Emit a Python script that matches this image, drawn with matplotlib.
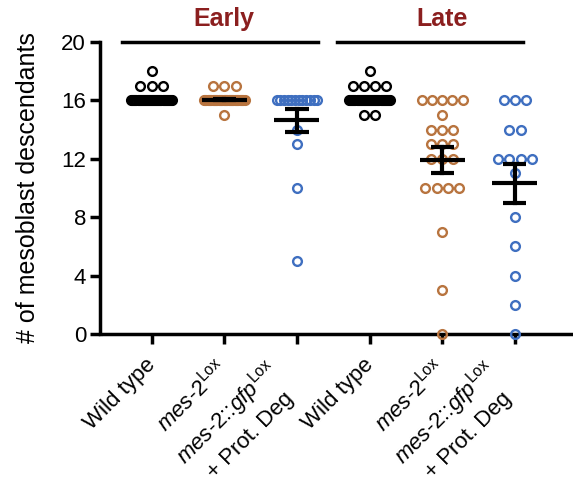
import matplotlib
matplotlib.use('Agg')
import matplotlib.pyplot as plt
import matplotlib.transforms as mtransforms
import numpy as np

plt.rcParams['font.family'] = ['Liberation Sans', 'DejaVu Sans']
plt.rcParams['mathtext.fontset'] = 'custom'
plt.rcParams['mathtext.rm'] = 'Liberation Sans'
plt.rcParams['mathtext.it'] = 'Liberation Sans:italic'

# values (counts per row)
wt_early = [18] + [17] * 3 + [16] * 40
mes2_early = [17] * 3 + [16] * 34 + [15]
gfp_early = [16] * 12 + [14, 13, 10, 5]
wt_late = [18] + [17] * 4 + [16] * 40 + [15] * 2
mes2_late = [16] * 5 + [15] + [14] * 3 + [13] * 3 + [12] * 3 + [10] * 4 + [7, 3, 0]
gfp_late = [16] * 3 + [14] * 2 + [12] * 4 + [11, 8, 6, 4, 2, 0]

groups = [wt_early, mes2_early, gfp_early, wt_late, mes2_late, gfp_late]
colors = ['black', '#b8743f', '#3f6fc0', 'black', '#b8743f', '#3f6fc0']
labels = ['Wild type',
          r'$\mathit{mes}$-$\mathit{2}^{\mathrm{Lox}}$',
          r'$\mathit{mes}$-$\mathit{2}$::$\mathit{gfp}^{\mathrm{Lox}}$' + '\n+ Prot. Deg',
          'Wild type',
          r'$\mathit{mes}$-$\mathit{2}^{\mathrm{Lox}}$',
          r'$\mathit{mes}$-$\mathit{2}$::$\mathit{gfp}^{\mathrm{Lox}}$' + '\n+ Prot. Deg']
title_color = '#8b1f1f'

fig = plt.figure(figsize=(5.73, 4.9), dpi=100)
ax = fig.add_axes([100 / 573, 156 / 490, 473 / 573, 292 / 490])

step = 0.155
maxspan = 0.56
for i, (vals, c) in enumerate(zip(groups, colors)):
    pos = i + 1
    vals = np.array(vals, dtype=float)
    # beeswarm-like: spread equal values in a row
    for v in np.unique(vals):
        n = np.sum(vals == v)
        span = min((n - 1) * step, maxspan)
        offs = np.linspace(-span / 2, span / 2, n) if n > 1 else np.array([0.0])
        ax.plot(pos + offs, [v] * n, 'o', mfc='none', mec=c, ms=6.3, mew=1.7,
                clip_on=False, zorder=3)
    m = vals.mean()
    sem = vals.std(ddof=1) / np.sqrt(len(vals))
    ax.plot([pos - 0.31, pos + 0.31], [m, m], color='black', lw=3, zorder=4,
            solid_capstyle='butt')
    ax.plot([pos, pos], [m - sem, m + sem], color='black', lw=3, zorder=4)
    for e in (m - sem, m + sem):
        ax.plot([pos - 0.16, pos + 0.16], [e, e], color='black', lw=3, zorder=4,
                solid_capstyle='butt')

# group bars
ax.plot([0.59, 3.29], [20, 20], color='black', lw=2.5, clip_on=False)
ax.plot([3.55, 6.11], [20, 20], color='black', lw=2.5, clip_on=False)
ax.text(2.0, 21.55, 'Early', color=title_color, fontsize=18, fontweight='bold',
        ha='center', va='center')
ax.text(5.0, 21.55, 'Late', color=title_color, fontsize=18, fontweight='bold',
        ha='center', va='center')

ax.set_xlim(0.29, 6.8)
ax.set_ylim(0, 20)
ax.set_yticks([0, 4, 8, 12, 16, 20])
ax.set_xticks(range(1, 7))
ax.tick_params(axis='y', labelsize=16, width=2.5, length=7, pad=3)
ax.tick_params(axis='x', width=2.5, length=7, pad=8)
ax.set_xticklabels(labels, rotation=45, ha='right', va='top',
                   multialignment='center', fontsize=16, linespacing=1.4)
shift = mtransforms.ScaledTranslation(8 / 100, 0, fig.dpi_scale_trans)
for lab in ax.get_xticklabels():
    lab.set_transform(lab.get_transform() + shift)
ax.set_ylabel('# of mesoblast descendants', fontsize=18, labelpad=15)
for s in ('top', 'right'):
    ax.spines[s].set_visible(False)
ax.spines['left'].set_linewidth(2.5)
ax.spines['bottom'].set_linewidth(2.5)
ax.spines['bottom'].set_bounds(0.33, 6.8)

fig.savefig('out.png', dpi=100)
